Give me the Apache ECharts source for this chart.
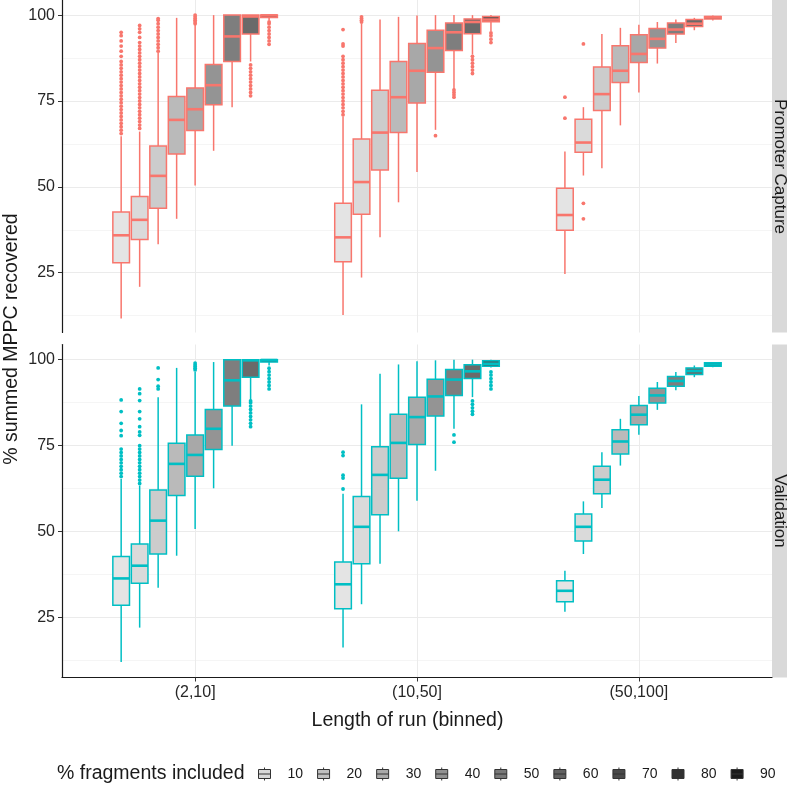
<!DOCTYPE html>
<html><head><meta charset="utf-8">
<script src="https://cdn.jsdelivr.net/npm/echarts@6/dist/echarts.min.js"></script>
<style>html,body{margin:0;padding:0;background:#fff}#c{width:787px;height:785px}</style>
</head><body><div id="c"></div>
<script>
const categories = ['(2,10]', '(10,50]', '(50,100]'];
const fractions = ['10', '20', '30', '40', '50', '60', '70', '80', '90'];
const yTicks = [25, 50, 75, 100];
const yMinorTicks = [12.5, 37.5, 62.5, 87.5];
const panelNames = ['Promoter Capture', 'Validation'];

// [low whisker, Q1, median, Q3, high whisker]; rows = fraction, columns = category
const pcBoxes = [
  [[11.7, 27.9, 35.9, 42.7, 64.7], [12.7, 28.2, 35.3, 45.2, 70.5], [24.6, 37.4, 41.8, 49.6, 60.3]],
  [[20.9, 34.7, 40.4, 47.2, 66.1], [23.6, 42.0, 51.4, 63.9, 97.5], [53.3, 60.1, 62.9, 69.7, 73.2]],
  [[33.3, 43.8, 53.2, 61.9, 89.0], [35.3, 54.9, 65.8, 78.1, 98.7], [55.4, 72.2, 77.0, 84.9, 94.5]],
  [[40.7, 59.6, 69.5, 76.3, 99.2], [45.5, 65.8, 76.1, 86.5, 99.5], [67.9, 80.4, 83.8, 91.1, 96.3]],
  [[50.4, 66.4, 72.6, 78.8, 97.2], [54.3, 74.4, 83.8, 91.7, 99.9], [77.5, 86.2, 88.7, 94.3, 97.2]],
  [[60.5, 73.9, 79.6, 85.6, 100], [66.6, 83.4, 90.4, 95.6, 100], [85.9, 90.4, 93.1, 96.1, 98.0]],
  [[73.2, 86.5, 93.8, 100, 100], [78.5, 89.7, 95.0, 97.7, 100], [91.9, 94.5, 95.8, 97.7, 98.7]],
  [[86.5, 94.5, 99.6, 100, 100], [88.5, 94.6, 98.0, 98.9, 100], [95.6, 96.7, 97.5, 98.7, 99.2]],
  [[98.5, 99.3, 99.9, 100, 100], [95.3, 98.1, 98.7, 99.6, 100], [98.4, 98.9, 99.4, 99.6, 99.9]]
];
const valBoxes = [
  [[12.1, 28.6, 36.4, 42.8, 65.3], [16.3, 27.6, 34.7, 41.2, 61.0], [26.7, 29.6, 32.8, 35.7, 38.6]],
  [[22.1, 35.0, 40.1, 46.4, 63.4], [28.9, 40.7, 51.4, 60.2, 87.0], [43.5, 47.3, 51.4, 55.1, 58.8]],
  [[33.7, 43.5, 53.2, 62.1, 89.1], [40.7, 54.9, 66.5, 74.7, 95.9], [56.9, 61.0, 65.1, 69.0, 73.1]],
  [[43.0, 60.5, 69.7, 75.7, 97.6], [50.1, 65.5, 75.8, 84.1, 98.6], [69.2, 72.6, 76.2, 79.6, 82.8]],
  [[50.8, 66.1, 72.3, 78.1, 96.4], [59.0, 75.3, 83.3, 89.1, 99.5], [78.2, 81.1, 84.0, 86.7, 89.4]],
  [[62.6, 73.9, 79.9, 85.5, 99.3], [67.7, 83.6, 89.3, 94.3, 99.8], [85.4, 87.4, 89.6, 91.7, 93.5]],
  [[75.0, 86.5, 94.0, 100, 100], [79.9, 89.6, 94.2, 97.1, 100], [91.1, 92.3, 93.8, 95.1, 96.4]],
  [[88.1, 94.9, 99.8, 100, 100], [89.1, 94.5, 96.6, 98.5, 100], [94.9, 95.7, 96.7, 97.6, 98.3]],
  [[98.3, 99.3, 99.9, 100, 100], [97.7, 98.1, 98.8, 99.7, 100], [97.8, 98.1, 98.6, 99.1, 99.3]]
];

// outlier values; rows = fraction, columns = category
const pcOutliers = [
  [[65.5, 66.5, 67.5, 68.5, 69.5, 70.5, 71.5, 72.5, 73.5, 74.5, 75.5, 76.5, 77.5, 78.5, 79.5, 80.5, 81.5, 82.5, 83.5, 84.5, 85.5, 86.5, 88, 89.5, 91, 92.5, 94, 95],
   [71, 72, 73, 74, 75, 76, 77, 78, 79, 80, 81, 82, 83, 84, 85, 86, 87, 88, 91, 91.6, 95.8],
   [70, 76.1]],
  [[67, 68, 69, 70, 71, 72, 73, 74, 75, 76, 77, 78, 79, 80, 81, 82, 83, 84, 85, 86, 87, 88, 89, 90, 91, 92, 93.5, 95, 96, 97],
   [98, 98.5, 99, 99.5],
   [91.6, 45.2, 40.7]],
  [[89.5, 90.5, 91.5, 92.5, 93.5, 94.5, 95.5, 96.5, 97.5, 98.5, 99], [], []],
  [[], [], []],
  [[97.5, 98, 98.5, 99, 99.5, 100], [], []],
  [[], [64.9], []],
  [[], [76.1, 76.8, 77.5, 78.2], []],
  [[76.5, 77.5, 78.5, 79.5, 80.5, 81.5, 82.5, 83.5, 84.5, 85.5], [83, 84, 85, 86, 87, 88], []],
  [[91.5, 92.5, 93.5, 94.5, 95.5, 96.5, 97.5, 98], [92, 93, 94, 94.8], []]
];
const valOutliers = [
  [[66, 67, 68, 69, 70, 71, 72, 73, 74, 77.9, 79.4, 81.5, 84.9, 88.3], [62.4, 65.6, 66.4, 72.1, 73.1], []],
  [[64, 65, 66, 67, 68, 69, 70, 71, 72, 73, 74, 75, 78, 79, 80.5, 82.8, 84.9, 88.1, 90.1, 91.5], [], []],
  [[91.5, 92.3, 94.2, 97.6], [], []],
  [[], [], []],
  [[97, 97.5, 98, 98.5, 99], [], []],
  [[], [], []],
  [[], [76, 78.1], []],
  [[80.5, 81.5, 82.5, 83.5, 84.5, 85.5, 86.5, 87.5, 88], [84.1, 85, 86, 87, 88], []],
  [[91.5, 92.5, 93.5, 94.5, 95.5, 96.5, 97.5], [91.5, 92.5, 93.5, 94.5, 95.5, 96.4], []]
];

const panelColors = ['#F8766D', '#00BFC4'];
const boxFillLevels = [228, 218, 204, 186, 168, 148, 126, 106, 80];
const legendFillLevels = [217, 193, 169, 145, 121, 97, 73, 49, 26];

const FONT = '"Liberation Sans", Arial, Helvetica, sans-serif';
const DODGE = 0.75, BOX_W = 0.075, N = fractions.length;
function xPos(ci, fi) { return ci + 1 + (fi - (N - 1) / 2) * DODGE / N; }
function grey(g) { return 'rgb(' + g + ',' + g + ',' + g + ')'; }

function makeRender(stroke, fill) {
  return function (params, api) {
    const x = api.value(0);
    const pLo = api.coord([x, api.value(1)]);
    const pQ1 = api.coord([x, api.value(2)]);
    const pMed = api.coord([x, api.value(3)]);
    const pQ3 = api.coord([x, api.value(4)]);
    const pHi = api.coord([x, api.value(5)]);
    const hw = api.size([BOX_W, 0])[0] / 2;
    const cx = pQ1[0];
    const ls = { stroke: stroke, lineWidth: 1.5 };
    return {
      type: 'group', children: [
        { type: 'line', shape: { x1: cx, y1: pQ1[1], x2: cx, y2: pLo[1] }, style: ls },
        { type: 'line', shape: { x1: cx, y1: pQ3[1], x2: cx, y2: pHi[1] }, style: ls },
        { type: 'rect', shape: { x: cx - hw, y: pQ3[1], width: 2 * hw, height: pQ1[1] - pQ3[1] }, style: { fill: fill, stroke: stroke, lineWidth: 1.5 } },
        { type: 'line', shape: { x1: cx - hw, y1: pMed[1], x2: cx + hw, y2: pMed[1] }, style: { stroke: stroke, lineWidth: 2.6 } }
      ]
    };
  };
}

const series = [];
[pcBoxes, valBoxes].forEach(function (boxes, pi) {
  boxes.forEach(function (row, fi) {
    series.push({
      type: 'custom', name: fractions[fi], xAxisIndex: pi, yAxisIndex: pi * 2,
      renderItem: makeRender(panelColors[pi], grey(boxFillLevels[fi])),
      encode: { x: 0, y: [1, 2, 3, 4, 5] },
      data: row.map(function (b, ci) { return [xPos(ci, fi)].concat(b); }),
      silent: true, z: 3
    });
  });
});
[pcOutliers, valOutliers].forEach(function (outs, pi) {
  const pts = [];
  outs.forEach(function (row, fi) {
    row.forEach(function (vals, ci) {
      vals.forEach(function (v) { pts.push([xPos(ci, fi), v]); });
    });
  });
  series.push({
    type: 'scatter', name: 'outliers-' + pi, xAxisIndex: pi, yAxisIndex: pi * 2,
    symbolSize: 3.8, itemStyle: { color: panelColors[pi], opacity: 1 }, data: pts, silent: true, z: 4
  });
});

const ICON = 'path://M6,0L6,2M0,2L12,2L12,11L0,11ZM0,6.5L12,6.5M6,11L6,13';

function xAxisCfg(gi, showAxis) {
  return {
    gridIndex: gi, type: 'value', min: 0.4, max: 3.6,
    axisLine: { show: showAxis, onZero: false, lineStyle: { color: '#1a1a1a', width: 1.2 } },
    axisTick: { show: showAxis, length: 4, customValues: [1, 2, 3], lineStyle: { color: '#333', width: 1 } },
    axisLabel: { show: showAxis, customValues: [1, 2, 3], formatter: function (v) { return categories[Math.round(v) - 1]; }, fontSize: 16, color: '#262626', fontFamily: FONT, margin: 7 },
    splitLine: { show: true, lineStyle: { color: '#EBEBEB', width: 1 } }
  };
}
function yAxisCfg(gi) {
  return [{
    gridIndex: gi, type: 'value', min: 7.6, max: 104.4, position: 'left',
    axisLine: { show: true, onZero: false, lineStyle: { color: '#1a1a1a', width: 1.2 } },
    axisTick: { show: true, length: 4, customValues: yTicks, lineStyle: { color: '#333', width: 1 } },
    axisLabel: { customValues: yTicks, fontSize: 16, color: '#262626', fontFamily: FONT, margin: 7 },
    splitLine: { show: true, lineStyle: { color: '#EBEBEB', width: 1 } }
  }, {
    gridIndex: gi, type: 'value', min: 7.6, max: 104.4,
    axisLine: { show: false }, axisTick: { show: false, customValues: yMinorTicks },
    axisLabel: { show: false, customValues: yMinorTicks },
    splitLine: { show: true, lineStyle: { color: '#F5F5F5', width: 1 } }
  }];
}

const option = {
  animation: false,
  backgroundColor: '#fff',
  grid: [
    { left: 62, right: 15, top: 0, height: 332.5 },
    { left: 62, right: 15, top: 344.5, height: 333 }
  ],
  xAxis: [xAxisCfg(0, false), xAxisCfg(1, true)],
  yAxis: yAxisCfg(0).concat(yAxisCfg(1)),
  legend: {
    data: fractions.map(function (f, i) {
      return { name: f, icon: ICON, itemStyle: { color: grey(legendFillLevels[i]), borderColor: '#333', borderWidth: 1 } };
    }),
    left: 258, top: 767, padding: 0, itemWidth: 12, itemHeight: 13, itemGap: 14, selectedMode: false,
    textStyle: { fontSize: 14, color: '#1a1a1a', fontFamily: FONT, padding: [0, 0, 0, 12] }
  },
  graphic: [
    { type: 'text', x: 12, y: 339, rotation: Math.PI / 2, style: { text: '% summed MPPC recovered', font: '19.5px ' + FONT, fill: '#1a1a1a', textAlign: 'center', textVerticalAlign: 'middle' } },
    { type: 'text', x: 407.5, y: 721, style: { text: 'Length of run (binned)', font: '19.5px ' + FONT, fill: '#1a1a1a', textAlign: 'center', textVerticalAlign: 'middle' } },
    { type: 'text', x: 57, y: 773.5, style: { text: '% fragments included', font: '19.5px ' + FONT, fill: '#1a1a1a', textAlign: 'left', textVerticalAlign: 'middle' } },
    { type: 'rect', shape: { x: 772, y: 0, width: 20, height: 332.5 }, style: { fill: '#D9D9D9' } },
    { type: 'rect', shape: { x: 772, y: 344.5, width: 20, height: 333 }, style: { fill: '#D9D9D9' } },
    { type: 'text', x: 779.5, y: 166.5, rotation: -Math.PI / 2, style: { text: panelNames[0], font: '17px ' + FONT, fill: '#1a1a1a', textAlign: 'center', textVerticalAlign: 'middle' } },
    { type: 'text', x: 779.5, y: 511, rotation: -Math.PI / 2, style: { text: panelNames[1], font: '17px ' + FONT, fill: '#1a1a1a', textAlign: 'center', textVerticalAlign: 'middle' } }
  ],
  series: series
};

const chart = echarts.init(document.getElementById('c'), null, { renderer: 'canvas' });
chart.setOption(option);
</script>
</body></html>
